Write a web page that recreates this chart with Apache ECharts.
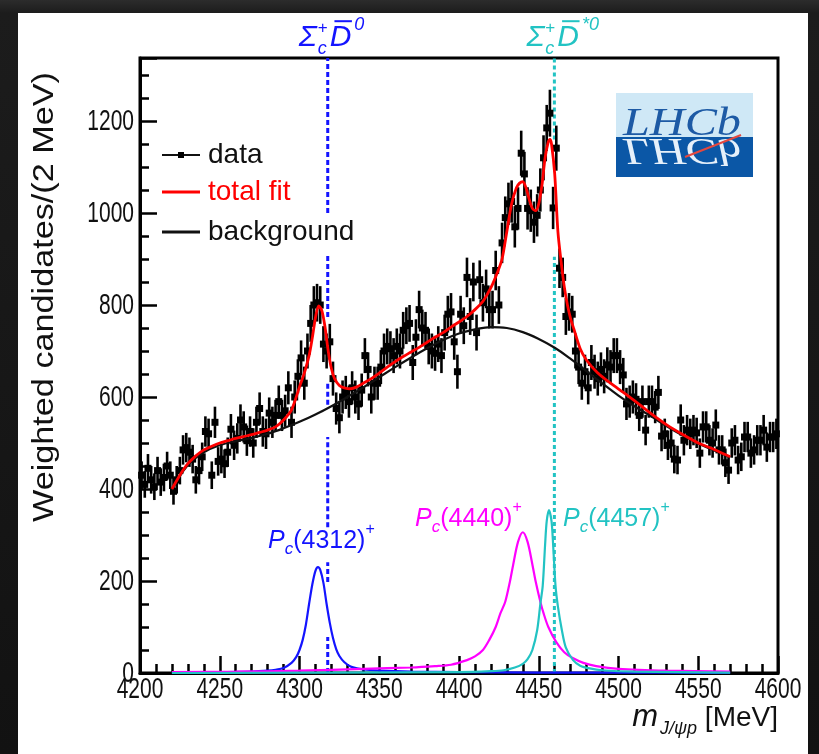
<!DOCTYPE html>
<html><head><meta charset="utf-8">
<script src="https://cdn.jsdelivr.net/npm/echarts@6/dist/echarts.min.js"></script>
<style>
html,body{margin:0;padding:0;width:819px;height:754px;overflow:hidden;background:linear-gradient(to bottom,#2c2c2c 0px,#1c1c1c 13px,#121212 100%);}
#bg{position:absolute;left:18px;top:13px;width:790px;height:741px;background:#fff;}
#chart{position:absolute;left:0;top:0;width:819px;height:754px;}
</style></head><body>
<div id="bg"></div><div id="chart"></div>
<script>
// ---------------- data (2 MeV bins) ----------------
const binCentres = [
4201,4203,4205,4207,4209,4211,4213,4215,4217,4219,
4221,4223,4225,4227,4229,4231,4233,4235,4237,4239,
4241,4243,4245,4247,4249,4251,4253,4255,4257,4259,
4261,4263,4265,4267,4269,4271,4273,4275,4277,4279,
4281,4283,4285,4287,4289,4291,4293,4295,4297,4299,
4301,4303,4305,4307,4309,4311,4313,4315,4317,4319,
4321,4323,4325,4327,4329,4331,4333,4335,4337,4339,
4341,4343,4345,4347,4349,4351,4353,4355,4357,4359,
4361,4363,4365,4367,4369,4371,4373,4375,4377,4379,
4381,4383,4385,4387,4389,4391,4393,4395,4397,4399,
4401,4403,4405,4407,4409,4411,4413,4415,4417,4419,
4421,4423,4425,4427,4429,4431,4433,4435,4437,4439,
4441,4443,4445,4447,4449,4451,4453,4455,4457,4459,
4461,4463,4465,4467,4469,4471,4473,4475,4477,4479,
4481,4483,4485,4487,4489,4491,4493,4495,4497,4499,
4501,4503,4505,4507,4509,4511,4513,4515,4517,4519,
4521,4523,4525,4527,4529,4531,4533,4535,4537,4539,
4541,4543,4545,4547,4549,4551,4553,4555,4557,4559,
4561,4563,4565,4567,4569,4571,4573,4575,4577,4579,
4581,4583,4585,4587,4589,4591,4593,4595,4597,4599];
const dataCounts = [
430,410,445,420,405,440,415,425,450,430,
395,420,440,485,490,480,465,420,440,470,
525,520,430,545,460,465,455,480,530,495,
510,550,535,505,525,500,545,575,525,520,
565,545,560,590,560,570,620,545,600,645,
685,630,700,760,800,805,800,715,700,720,
640,575,555,600,610,590,620,600,585,615,
690,660,600,630,630,665,700,710,705,690,
710,700,745,755,760,675,730,790,750,745,
710,700,695,715,690,740,780,785,720,655,
780,755,860,775,850,740,855,805,835,790,
790,875,800,935,990,1020,1025,970,1010,1130,
1085,1010,1005,980,995,1050,1120,1185,1217,1011,
1141,880,860,775,785,780,700,665,630,655,
620,675,655,640,660,645,670,665,690,690,
665,648,585,590,600,595,560,590,528,590,
590,578,610,515,520,495,500,465,463,550,
506,528,520,528,522,478,535,535,506,500,
539,485,485,457,441,500,506,463,470,513,
513,478,485,506,506,528,491,513,513,520];
const dataErrors = [
30,29,31,30,29,30,30,30,31,30,
29,30,30,32,32,32,31,30,30,31,
33,33,30,34,31,31,31,32,33,32,
33,34,34,33,33,32,34,35,33,33,
34,34,34,35,34,35,36,34,36,37,
38,36,38,40,41,41,41,39,38,39,
37,35,34,36,36,35,36,36,35,36,
38,37,36,36,36,37,38,39,38,38,
39,38,40,40,40,38,39,41,40,40,
39,38,38,39,38,39,40,41,39,37,
40,40,43,40,42,39,42,41,42,41,
41,43,41,44,46,46,46,45,46,49,
48,46,46,45,46,47,49,50,51,46,
49,43,43,40,41,40,38,37,36,37,
36,38,37,37,37,37,38,37,38,38,
37,37,35,35,36,35,34,35,33,35,
35,35,36,33,33,32,32,31,31,34,
33,33,33,33,33,32,34,34,33,32,
34,32,32,31,30,32,33,31,31,33,
33,32,32,33,33,33,32,33,33,33];

// ---------------- fit curves ----------------
const totalFitMass = [4220,4225,4230,4235,4240,4245,4250,4255,4260,4265,4270,4275,4280,4285,4290,4295,4300,4303,4306,4308,4310,4312,4314,4316,4318,4320,4322,4325,4328,4332,4336,4340,4345,4350,4355,4360,4365,4370,4375,4380,4385,4390,4395,4400,4405,4410,4415,4418,4421,4424,4427,4430,4433,4436,4438,4440,4442,4444,4446,4448,4450,4452,4454,4456,4457,4458,4460,4462,4464,4466,4468,4470,4472,4476,4480,4487,4495,4503,4510,4520,4530,4540,4550,4560,4570];
const totalFitValues = [400,430,455,472,485,493,500,505,510,514,518,523,528,535,550,572,622,652,690,728,772,798,788,752,700,662,640,625,620,618,622,630,640,652,665,677,688,698,708,719,730,740,752,763,775,790,808,825,845,870,900,960,1020,1055,1065,1068,1055,1030,1010,1005,1020,1060,1120,1155,1160,1150,1085,960,895,840,800,770,748,705,680,652,630,610,592,565,540,519,500,486,470];
const backgroundMass = [4220,4230,4240,4250,4260,4270,4280,4290,4300,4310,4320,4330,4340,4350,4360,4370,4380,4390,4400,4410,4420,4430,4440,4450,4460,4470,4480,4490,4500,4510,4520,4530,4540,4550,4560,4570];
const backgroundValues = [398,452,480,495,504,511,520,532,546,562,580,600,621,643,665,686,706,724,738,747,752,750,741,726,707,683,656,629,603,580,559,537,517,499,484,469];
const pc4312Mass = [4220,4250,4270,4280,4285,4290,4295,4298,4300,4302,4304,4306,4308,4310,4311.6,4313,4315,4317,4319,4321,4323,4325,4328,4332,4336,4342,4350,4370,4400,4450,4500,4570];
const pc4312Values = [1,2,3,5,7,11,22,35,50,72,105,150,192,222,230,224,196,150,109,76,52,37,24,14,10,7,5,3,2,1,1,0];
const pc4440Mass = [4220,4260,4300,4340,4370,4385,4395,4405,4410,4415,4419,4423,4426,4429,4432,4434,4437,4440,4443,4446,4448,4451,4453,4456,4461,4466,4471,4478,4486,4500,4530,4570];
const pc4440Values = [2,3,5,9,12,15,18,28,36,50,72,100,130,155,200,236,285,306,285,236,200,155,130,100,67,45,33,22,15,9,5,3];
const pc4457Mass = [4220,4400,4420,4428,4435,4440,4443,4446,4449,4451,4452.5,4454,4455,4456.4,4458,4459,4460.5,4462,4464.5,4467,4471.5,4476,4482,4490,4510,4570];
const pc4457Values = [0,2,4,6,12,20,30,50,93,150,190,280,330,354,330,280,190,145,93,55,28,16,10,6,3,1];

// thresholds and the visible pieces of their dashed lines (count ranges)
const thresholdMass = [4317.7, 4459.8];
const blueLinePieces = [[1000,1337],[774,913],[583,633],[317,513],[198,241],[0,78]];
const cyanLinePieces = [[0,905],[1160,1337]];

const xTicks = [4200,4250,4300,4350,4400,4450,4500,4550,4600];
const yTicks = [0,200,400,600,800,1000,1200];

// ---------------- helpers ----------------
const zip = (a,b) => a.map((v,i)=>[v,b[i]]);
const FF = '"Liberation Sans", Arial, Helvetica, sans-serif';
const mctx = document.createElement('canvas').getContext('2d');
function measure(font, t){ mctx.font = font; return mctx.measureText(t).width; }
function fnt(p){ return (p.italic?'italic ':'') + (p.bold?'bold ':'') + p.size + 'px ' + (p.family||FF); }
function richLabel(pieces, x, baseline, color, anchor){
  let cur = 0, prevX = 0, prevW = 0; const placed = [];
  pieces.forEach(p=>{
    const w = measure(fnt(p), p.t);
    let px;
    if (p.stack){ px = prevX; const adv = Math.max(prevW, w); cur = prevX + adv; prevW = adv; }
    else { px = cur + (p.dx||0); cur = px + w; prevX = px; prevW = w; }
    placed.push({p, px, w});
  });
  const x0 = anchor==='center' ? x - cur/2 : anchor==='right' ? x - cur : x;
  const els = [];
  placed.forEach(({p,px,w})=>{
    const by = baseline + (p.dy||0);
    els.push({type:'text', x:x0+px, y:by - 0.32*p.size, z:100, silent:true,
      style:{text:p.t, font:fnt(p), fill:color, align:'left', textAlign:'left', verticalAlign:'middle', textVerticalAlign:'middle'}});
    if (p.overline){
      const oy = by - p.size*0.86;
      els.push({type:'line', z:100, silent:true, shape:{x1:x0+px+p.size*0.16, y1:oy, x2:x0+px+w+p.size*0.02, y2:oy}, style:{stroke:color, lineWidth:2}});
    }
  });
  return els;
}

const BLUE = '#1414ff', MAG = '#ff00ff', CYAN = '#22c3c3', RED = '#ff0000';

const chart = echarts.init(document.getElementById('chart'), null, {renderer:'canvas'});
const option = {
  backgroundColor:'transparent',
  animation:false,
  grid:{left:140, top:58, width:638, height:615, show:true, borderColor:'#000', borderWidth:3, backgroundColor:'transparent', outerBoundsMode:'none', containLabel:false},
  xAxis:{type:'value', min:4200, max:4600, interval:50,
    axisLine:{show:true, lineStyle:{color:'#000', width:3}},
    axisTick:{show:true, inside:true, length:17, lineStyle:{color:'#000', width:2.5}},
    minorTick:{show:true, splitNumber:5, length:9, lineStyle:{color:'#000', width:2.5}},
    axisLabel:{show:false},
    splitLine:{show:false}, minorSplitLine:{show:false}},
  yAxis:[
    {type:'value', min:0, max:1337, interval:200, position:'left',
      axisLine:{show:true, lineStyle:{color:'#000', width:3}},
      axisTick:{show:true, inside:true, length:17, lineStyle:{color:'#000', width:2.5}},
      axisLabel:{show:false},
      splitLine:{show:false}},
    {type:'value', min:0, max:1337, interval:50, position:'left', offset:0,
      axisLine:{show:false}, axisLabel:{show:false}, splitLine:{show:false},
      axisTick:{show:true, inside:true, length:9, lineStyle:{color:'#000', width:2.5}}}
  ],
  series:[
    {type:'custom', name:'thresholdBlue', z:1, silent:true,
      data: blueLinePieces.map(p=>[thresholdMass[0], p[0], p[1]]),
      renderItem:(params, api)=>{
        const a = api.coord([api.value(0), api.value(1)]), b = api.coord([api.value(0), api.value(2)]);
        return {type:'line', shape:{x1:a[0], y1:a[1], x2:b[0], y2:b[1]}, style:{stroke:BLUE, lineWidth:3, lineDash:[5,3]}};
      }},
    {type:'custom', name:'thresholdCyan', z:1, silent:true,
      data: cyanLinePieces.map(p=>[thresholdMass[1], p[0], p[1]]),
      renderItem:(params, api)=>{
        const a = api.coord([api.value(0), api.value(1)]), b = api.coord([api.value(0), api.value(2)]);
        return {type:'line', shape:{x1:a[0], y1:a[1], x2:b[0], y2:b[1]}, style:{stroke:CYAN, lineWidth:3, lineDash:[4,3]}};
      }},
    {type:'custom', name:'data', z:3, silent:true,
      data: binCentres.map((m,i)=>[m, dataCounts[i], dataErrors[i]]),
      encode:{x:0, y:1},
      renderItem:(params, api)=>{
        const m = api.value(0), v = api.value(1), e = api.value(2);
        const p = api.coord([m, v]), t = api.coord([m, v+e]), b = api.coord([m, v-e]);
        return {type:'group', children:[
          {type:'line', shape:{x1:p[0], y1:t[1], x2:p[0], y2:b[1]}, style:{stroke:'#000', lineWidth:2.6}},
          {type:'rect', shape:{x:p[0]-3.5, y:p[1]-3.5, width:7, height:7}, style:{fill:'#000'}}
        ]};
      }},
    {type:'line', name:'Pc(4312)', z:4, data:zip(pc4312Mass, pc4312Values), showSymbol:false, smooth:0.3, lineStyle:{color:BLUE, width:2.2}},
    {type:'line', name:'Pc(4440)', z:4, data:zip(pc4440Mass, pc4440Values), showSymbol:false, smooth:0.3, lineStyle:{color:MAG, width:2.2}},
    {type:'line', name:'Pc(4457)', z:4, data:zip(pc4457Mass, pc4457Values), showSymbol:false, smooth:0.3, lineStyle:{color:CYAN, width:2.2}},
    {type:'line', name:'background', z:5, data:zip(backgroundMass, backgroundValues), showSymbol:false, smooth:0.4, lineStyle:{color:'#111', width:2.2}},
    {type:'line', name:'total fit', z:6, data:zip(totalFitMass, totalFitValues), showSymbol:false, smooth:0.3, lineStyle:{color:RED, width:2.8}}
  ]
};
chart.setOption(option);

// ---------------- annotations ----------------
const px = (m, v) => chart.convertToPixel({gridIndex:0}, [m, v]);
const g = [];
// tick labels, placed through the axis scales (tall, narrow look of the original)
const tickFont = '21px ' + FF;
xTicks.forEach(t=>{
  const p = px(t, 0);
  g.push({type:'text', x:p[0], y:p[1]+17, scaleY:1.38, z:100, silent:true,
    style:{text:String(t), font:tickFont, fill:'#111', align:'center', textAlign:'center', verticalAlign:'middle', textVerticalAlign:'middle'}});
});
yTicks.forEach(t=>{
  const p = px(4200, t);
  g.push({type:'text', x:p[0]-6, y:p[1]+1, scaleY:1.38, z:100, silent:true,
    style:{text:String(t), font:tickFont, fill:'#111', align:'right', textAlign:'right', verticalAlign:'middle', textVerticalAlign:'middle'}});
});
// threshold labels
const tb = px(thresholdMass[0], 0)[0], tc = px(thresholdMass[1], 0)[0];
const sigmaPieces = (sup) => [
  {t:'\u03A3', size:30, italic:true},
  {t:'+', size:17, dy:-13, dx:1},
  {t:'c', size:18, italic:true, dy:8, stack:true},
  {t:'D', size:30, italic:true, dx:2, overline:true},
  {t:sup, size:18, italic:true, dy:-16, dx:3}
];
g.push(...richLabel(sigmaPieces('0'), tb - 29, 47, BLUE, 'left'));
g.push(...richLabel(sigmaPieces('*0'), tc - 28, 47, CYAN, 'left'));
// y-axis title
const yTitle = 'Weighted candidates/(2 MeV)';
const yTitleFont = '29px ' + FF;
g.push({type:'text', x:45, y:297, rotation:Math.PI/2, scaleX:450/measure(yTitleFont, yTitle), z:100, silent:true,
  style:{text:yTitle, font:yTitleFont, fill:'#111', align:'center', textAlign:'center', verticalAlign:'middle', textVerticalAlign:'middle'}});
// x-axis title
g.push(...richLabel([
  {t:'m', size:31, italic:true},
  {t:'J/\u03C8p', size:18, italic:true, dy:8, dx:2},
  {t:' [MeV]', size:28}
], 778, 727, '#111', 'right'));
// peak labels
const pcPieces = (num) => [
  {t:'P', size:25, italic:true},
  {t:'c', size:17, italic:true, dy:6},
  {t:'(' + num + ')', size:25},
  {t:'+', size:16, dy:-14}
];
g.push(...richLabel(pcPieces('4312'), 268, 549, BLUE, 'left'));
g.push(...richLabel(pcPieces('4440'), 415, 527, MAG, 'left'));
g.push(...richLabel(pcPieces('4457'), 563, 527, CYAN, 'left'));
// legend
const legendRows = [
  {label:'data', color:'#111', y:155, line:'#111', square:true, w:2},
  {label:'total fit', color:RED, y:192, line:RED, square:false, w:3},
  {label:'background', color:'#111', y:232, line:'#111', square:false, w:3}
];
legendRows.forEach(r=>{
  g.push({type:'line', z:100, silent:true, shape:{x1:162, y1:r.y, x2:200, y2:r.y}, style:{stroke:r.line, lineWidth:r.w}});
  if (r.square) g.push({type:'rect', z:100, silent:true, shape:{x:178, y:r.y-3, width:6, height:6}, style:{fill:'#000'}});
  g.push({type:'text', x:208, y:r.y, z:100, silent:true, style:{text:r.label, font:'28px ' + FF, fill:r.color, align:'left', textAlign:'left', verticalAlign:'middle', textVerticalAlign:'middle'}});
});
// LHCb logo
g.push({type:'rect', z:90, silent:true, shape:{x:616, y:93, width:137, height:44}, style:{fill:'#cfe8f6'}});
g.push({type:'rect', z:90, silent:true, shape:{x:616, y:137, width:137, height:40}, style:{fill:'#0b57a6'}});
const logoFont = 'italic 40px "Liberation Serif", "DejaVu Serif", serif';
const logoScale = 118/measure(logoFont, 'LHCb');
g.push({type:'text', x:623, y:137, scaleX:logoScale, z:95, silent:true,
  style:{text:'LHCb', font:logoFont, fill:'#1d5aa5', align:'left', textAlign:'left', verticalAlign:'middle', textVerticalAlign:'middle', y:-13}});
g.push({type:'text', x:623, y:137, scaleX:logoScale, scaleY:-0.95, z:95, silent:true,
  style:{text:'LHCb', font:logoFont, fill:'#e6f0fa', align:'left', textAlign:'left', verticalAlign:'middle', textVerticalAlign:'middle', y:-13}});
g.push({type:'line', z:96, silent:true, shape:{x1:685, y1:157, x2:741, y2:135}, style:{stroke:'#e5483f', lineWidth:2}});

chart.setOption({graphic:{elements:g}});
</script>
</body></html>
